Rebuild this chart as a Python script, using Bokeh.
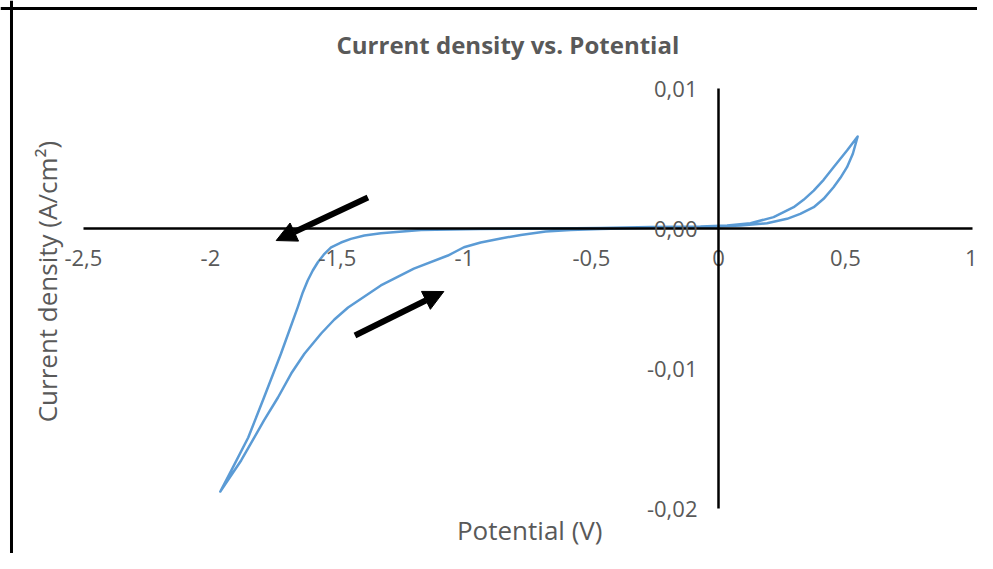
import math
from bokeh.plotting import figure
from bokeh.models import (Range1d, FixedTicker, Label, Arrow, NormalHead, ColumnDataSource, Span)
from bokeh.embed import file_html
from bokeh.resources import INLINE

# ---- data ----
potential = [
    0.0, 0.0865, 0.191, 0.270, 0.322, 0.375, 0.414, 0.453, 0.480, 0.506, 0.529, 0.548,
    0.506, 0.453, 0.414, 0.375, 0.335, 0.296, 0.217, 0.126, 0.034, -0.071, -0.267,
    -0.464, -0.660, -0.936, -1.171, -1.329, -1.394, -1.447, -1.486, -1.525, -1.551,
    -1.577, -1.597, -1.617, -1.636, -1.656, -1.722, -1.789, -1.851, -1.918, -1.961,
    -1.879, -1.789, -1.734, -1.682, -1.630, -1.564, -1.512, -1.458, -1.329, -1.199,
    -1.065, -1.002, -0.936, -0.857, -0.778, -0.680, -0.582, -0.464, -0.267, -0.071, 0.0,
]
current = [
    0.00015, 0.000214, 0.000379, 0.000693, 0.00105, 0.00152, 0.00212, 0.00295, 0.00362, 0.00438, 0.00534, 0.00657,
    0.00557, 0.00438, 0.00348, 0.00271, 0.00205, 0.00152, 0.00081, 0.00038, 0.00021, 0.00014, 0.0001,
    0.00004, 0.0, -0.00004, -0.0001, -0.00034, -0.0005, -0.00074, -0.001, -0.00134, -0.00181,
    -0.00241, -0.003, -0.00371, -0.00455, -0.00562, -0.00893, -0.01207, -0.01493, -0.01729, -0.01879,
    -0.01657, -0.01371, -0.01207, -0.01036, -0.00895, -0.0075, -0.0065, -0.00564, -0.00407, -0.00286,
    -0.00193, -0.00134, -0.001, -0.00071, -0.00046, -0.00021, -0.0001, -0.00004, 0.00005, 0.0001, 0.00015,
]

x_ticks = [-2.5, -2, -1.5, -1, -0.5, 0, 0.5, 1]
x_tick_labels = ["-2,5", "-2", "-1,5", "-1", "-0,5", "0", "0,5", "1"]
y_ticks = [-0.02, -0.01, 0, 0.01]
y_tick_labels = ["-0,02", "-0,01", "0,00", "0,01"]

# arrows: (x_start, y_start, x_end, y_end)
arrow_left = (-1.380, 0.00221, -1.741, -0.00086)
arrow_right = (-1.431, -0.00764, -1.081, -0.0045)

title_text = "Current density vs. Potential"
x_title = "Potential (V)"
y_title = "Current density (A/cm\u00b2)"

FONT = "Open Sans"
GRAY = "#595959"
BLUE = "#5B9BD5"

p = figure(
    width=977, height=553,
    min_border=0, min_border_left=0, min_border_right=0, min_border_top=0, min_border_bottom=0,
    x_range=Range1d(-2.8263, 1.0197), y_range=Range1d(-0.023214, 0.016286),
    output_backend="svg", toolbar_location=None,
)
p.background_fill_color = "white"
p.border_fill_color = "white"
p.outline_line_color = None
p.grid.visible = False

for ax in (p.xaxis[0], p.yaxis[0]):
    ax.fixed_location = 0
    ax.axis_line_color = "black"
    ax.axis_line_width = 2.5
    ax.major_tick_line_color = None
    ax.minor_tick_line_color = None
    ax.major_tick_out = 0
    ax.major_tick_in = 0
    ax.minor_tick_out = 0
    ax.minor_tick_in = 0
    ax.major_label_text_font = FONT
    ax.major_label_text_color = GRAY
    ax.major_label_text_font_size = "22px"

p.xaxis[0].ticker = FixedTicker(ticks=x_ticks)
p.xaxis[0].major_label_overrides = dict(zip(x_ticks, x_tick_labels))
p.xaxis[0].bounds = (x_ticks[0], x_ticks[-1])
p.xaxis[0].major_label_standoff = 21

p.yaxis[0].ticker = FixedTicker(ticks=y_ticks)
p.yaxis[0].major_label_overrides = dict(zip(y_ticks, y_tick_labels))
p.yaxis[0].bounds = (y_ticks[0], y_ticks[-1])
p.yaxis[0].major_label_standoff = 21

# chart-area border (top and left edges visible in the reference)
p.add_layout(Span(location=0.015714, dimension="width", line_color="black", line_width=3))
p.add_layout(Span(location=-2.783, dimension="height", line_color="black", line_width=3))

src = ColumnDataSource(dict(x=potential, y=current))
p.line("x", "y", source=src, line_color=BLUE, line_width=2.5, line_join="round")

for (xs, ys, xe, ye) in (arrow_left, arrow_right):
    p.add_layout(Arrow(
        x_start=xs, y_start=ys, x_end=xe, y_end=ye,
        line_color="black", line_width=6,
        end=NormalHead(size=20, fill_color="black", line_color="black", line_width=1),
    ))

p.add_layout(Label(x=-0.829, y=0.013143, text=title_text, text_align="center",
                   text_baseline="middle", text_font=FONT, text_font_style="bold",
                   text_font_size="24px", text_color=GRAY))
p.add_layout(Label(x=-0.743, y=-0.02157, text=x_title, text_align="center",
                   text_baseline="middle", text_font=FONT,
                   text_font_size="26px", text_color=GRAY))
p.add_layout(Label(x=-2.645, y=-0.00379, text=y_title, text_align="center",
                   text_baseline="middle", text_font=FONT, angle=math.pi / 2,
                   text_font_size="26px", text_color=GRAY))

open("out.html", "w").write(file_html(p, INLINE))
